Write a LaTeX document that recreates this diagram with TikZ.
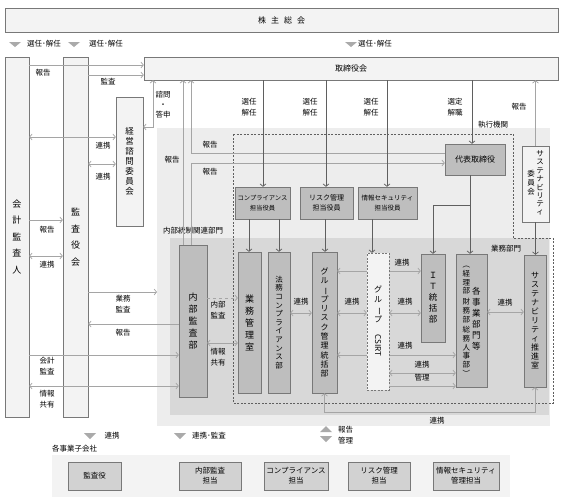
\documentclass[tikz,border=0pt]{standalone}
\usepackage{fontspec}
\setmainfont{Noto Sans CJK JP}
\usepackage{tikz}
\usetikzlibrary{arrows.meta}

\definecolor{paleGray}{RGB}{243,243,243}
\definecolor{bgLight}{RGB}{237,237,237}
\definecolor{bgDark}{RGB}{216,216,216}
\definecolor{boxGray}{RGB}{190,190,190}
\definecolor{subGray}{RGB}{210,210,210}
\definecolor{edgeGray}{RGB}{120,120,120}
\definecolor{lineGray}{RGB}{165,165,165}
\definecolor{darkLine}{RGB}{95,95,95}
\definecolor{triGray}{RGB}{170,170,170}

\newcommand{\vcol}[1]{\begin{tabular}[c]{@{}c@{}}#1\end{tabular}}
\newcommand{\vbar}{\rotatebox[origin=c]{-90}{ー}}

\tikzset{
  >={Straight Barb[length=2.5pt,width=6pt]},
  pale/.style={draw=edgeGray, fill=paleGray, inner sep=0pt, align=center},
  dept/.style={draw=edgeGray, fill=boxGray, inner sep=0pt, align=center},
  sub/.style={draw=edgeGray, fill=subGray, inner sep=0pt, align=center,
    minimum height=28, font=\fontsize{7.5}{10}\selectfont},
  lbl/.style={inner sep=0pt, align=center, font=\fontsize{7.5}{10.5}\selectfont},
  lnk/.style={draw=lineGray, line width=0.7pt},
  dnk/.style={draw=darkLine, line width=0.7pt},
  tri/.style={fill=triGray},
}

\begin{document}
\begin{tikzpicture}[x=1pt,y=-1pt]
\useasboundingbox[fill=white] (0,0) rectangle (565,501);

% background areas
\node[fill=bgLight, inner sep=0pt, minimum width=393, minimum height=298, anchor=north west] (exarea) at (157,128) {};
\node[fill=bgDark, inner sep=0pt, minimum width=379, minimum height=177, anchor=north west] (ctrlarea) at (170,238) {};
\draw[darkLine, dash pattern=on 2pt off 1.5pt] (233,134) -- (513,134) -- (513,238) -- (553,238) -- (553,403) -- (233,403) -- cycle;
\node[lbl] (shikko) at (493,125) {執行機関};
\node[lbl] (toseilbl) at (193,231) {内部統制関連部門};
\node[lbl] (gyomulbl) at (506,249) {業務部門};

% top
\node[pale, minimum width=553, minimum height=24, font=\fontsize{8}{9}\selectfont] (sohkai) at (281.5,20) {株\hspace{5pt}主\hspace{5pt}総\hspace{5pt}会};
\fill[tri] (9,42) -- (21,42) -- (15,47) -- cycle;
\node[lbl] (sen1) at (44,44) {選任･解任};
\fill[tri] (68,42) -- (80,42) -- (74,47) -- cycle;
\node[lbl] (sen2) at (106,44) {選任･解任};
\fill[tri] (345,42) -- (357,42) -- (351,47) -- cycle;
\node[lbl] (sen3) at (375,44) {選任･解任};
\node[pale, minimum width=414, minimum height=23, font=\fontsize{8}{9}\selectfont] (torishimari) at (351,68.5) {取締役会};

% left columns
\node[pale, minimum width=24, minimum height=360, font=\fontsize{9}{16.5}\selectfont] (kaikei) at (17,237) {会\\計\\監\\査\\人};
\node[pale, minimum width=25, minimum height=360, font=\fontsize{9}{16.5}\selectfont] (kansayaku) at (75.5,237) {監\\査\\役\\会};
\node[pale, minimum width=27, minimum height=129, font=\fontsize{8.5}{10}\selectfont] (keiei) at (129.5,161.5) {経\\営\\諮\\問\\委\\員\\会};

% executive boxes
\node[dept, minimum width=60, minimum height=31, font=\fontsize{8}{9}\selectfont] (daihyo) at (475,159.5) {代表取締役};
\node[pale, minimum width=27, minimum height=76] (suiinkai) at (535.5,184)
  {\fontsize{7.5}{9}\selectfont\vcol{委\\員\\会}\hspace{1.5pt}\fontsize{7.5}{8.3}\selectfont\vcol{サ\\ス\\テ\\ナ\\ビ\\リ\\テ\\ィ}};
\node[dept, minimum width=55, minimum height=32, font=\fontsize{6.3}{9.5}\selectfont] (compyaku) at (262.5,203) {コンプライアンス\\担当役員};
\node[dept, minimum width=53, minimum height=32, font=\fontsize{7}{9.5}\selectfont] (riskyaku) at (326.5,203) {リスク管理\\担当役員};
\node[dept, minimum width=59, minimum height=32, font=\fontsize{6.5}{9.5}\selectfont] (infoyaku) at (387.5,203) {情報セキュリティ\\担当役員};

% departments
\node[dept, minimum width=28, minimum height=152, font=\fontsize{9}{12}\selectfont] (naibu) at (193,321) {内\\部\\監\\査\\部};
\node[dept, minimum width=23, minimum height=141, font=\fontsize{9}{12}\selectfont] (gyomu) at (249.5,322.5) {業\\務\\管\\理\\室};
\node[dept, minimum width=22, minimum height=141, font=\fontsize{7.5}{8.6}\selectfont] (homu) at (279,322.5) {法\\務\\コ\\ン\\プ\\ラ\\イ\\ア\\ン\\ス\\部};
\node[dept, minimum width=25, minimum height=141, font=\fontsize{8}{9.3}\selectfont] (grisk) at (324.5,322.5) {グ\\ル\\\vbar\\プ\\リ\\ス\\ク\\管\\理\\統\\括\\部};
\node[dept, minimum width=24, minimum height=88, font=\fontsize{8.5}{11}\selectfont] (it) at (433,298) {Ｉ\\Ｔ\\統\\括\\部};
\node[dept, minimum width=31, minimum height=133] (jigyo) at (471.5,320.5)
  {\fontsize{7.5}{8.2}\selectfont\vcol{︵\\経\\理\\部\\[2pt]財\\務\\部\\[2pt]総\\務\\人\\事\\部\\︶}\hspace{2pt}\fontsize{8.5}{11}\selectfont\vcol{各\\事\\業\\部\\門\\等}};
\node[dept, minimum width=22, minimum height=132, font=\fontsize{8}{9}\selectfont] (suishin) at (535,321) {サ\\ス\\テ\\ナ\\ビ\\リ\\テ\\ィ\\推\\進\\室};

% links across the CSIRT box
\draw[lnk,<->] (grisk.east|-0,271) -- (it.west|-0,271);
\node[lbl] (tx21) at (402,263) {連携};
\draw[lnk,<->] (grisk.east|-0,355) -- (jigyo.west|-0,355);
\node[lbl] (tx22) at (405,346) {連携};
\node[draw=edgeGray, dash pattern=on 2pt off 1.5pt, fill=paleGray, inner sep=0pt, minimum width=22, minimum height=137, align=center, font=\fontsize{8}{10}\selectfont] (csirt) at (378,321.5) {グ\\ル\\\vbar\\プ\\[2pt]\rotatebox{-90}{CSIRT}};

% left side links
\draw[lnk,->] (kaikei.east|-0,65) -- (torishimari.west|-0,65);
\node[lbl] (tx1) at (43,73) {報告};
\draw[lnk,->] (kansayaku.east|-0,75) -- (torishimari.west|-0,75);
\node[lbl] (tx2) at (108,82) {監査};
\draw[lnk,<->] (keiei.east|-0,127) -| (torishimari.south-|153,0);
\node[lbl, font=\fontsize{7.5}{10}\selectfont] (tx3) at (163,105) {諮問\\・\\答申};
\draw[lnk,<->] (kaikei.east|-0,137) -- (keiei.west|-0,137);
\node[lbl] (tx4) at (103,146) {連携};
\draw[lnk,<->] (kansayaku.east|-0,164) -- (keiei.west|-0,164);
\node[lbl] (tx5) at (103,177) {連携};
\draw[lnk,->] (kaikei.east|-0,220) -- (kansayaku.west|-0,220);
\node[lbl] (tx6) at (47,230) {報告};
\draw[lnk,<->] (kaikei.east|-0,256) -- (kansayaku.west|-0,256);
\node[lbl] (tx7) at (47,265) {連携};
\draw[lnk,->] (kansayaku.east|-0,292) -- (exarea.west|-0,292);
\node[lbl] (tx8) at (123,304) {業務\\監査};
\draw[lnk,->] (naibu.west|-0,324) -- (kansayaku.east|-0,324);
\node[lbl] (tx9) at (123,333) {報告};
\draw[lnk,->] (kaikei.east|-0,355) -- (naibu.west|-0,355);
\node[lbl] (tx10) at (47,366) {会計\\監査};
\draw[lnk,<->] (kaikei.east|-0,386) -- (naibu.west|-0,386);
\node[lbl] (tx11) at (47,399) {情報\\共有};

% reports up to the board
\draw[lnk,->] (naibu.north-|183,0) -- (torishimari.south-|183,0);
\node[lbl] (tx12) at (172,160) {報告};
\draw[lnk,->] (daihyo.west|-0,153) -| (torishimari.south-|191,0);
\node[lbl] (tx13) at (210,145) {報告};
\draw[lnk,->] (naibu.north-|191,0) |- (daihyo.west|-0,163);
\node[lbl] (tx14) at (210,172) {報告};
\draw[lnk,->] (suiinkai.north) -- (torishimari.south-|suiinkai.north);
\node[lbl] (tx15) at (519,107) {報告};

% appointments
\draw[dnk,->] (torishimari.south-|263,0) -- (compyaku.north-|263,0);
\node[lbl] (tx16) at (249,107) {選任\\解任};
\draw[dnk,->] (torishimari.south-|326,0) -- (riskyaku.north-|326,0);
\node[lbl] (tx17) at (310,107) {選任\\解任};
\draw[dnk,->] (torishimari.south-|387,0) -- (infoyaku.north-|387,0);
\node[lbl] (tx18) at (371,107) {選任\\解任};
\draw[dnk,->] (torishimari.south-|472,0) -- (daihyo.north-|472,0);
\node[lbl] (tx19) at (455,107) {選定\\解職};

% orders down
\draw[dnk,->] (compyaku.south-|249,0) -- (gyomu.north-|249,0);
\draw[dnk,->] (compyaku.south-|279,0) -- (homu.north-|279,0);
\draw[dnk,->] (riskyaku.south-|325,0) -- (grisk.north-|325,0);
\draw[dnk,->] (infoyaku.south-|372,0) -- (csirt.north-|372,0);
\draw[dnk,->] (daihyo.south-|470,0) -- (jigyo.north-|470,0);
\coordinate (branch) at (470,205);
\draw[dnk,->] (branch) -| (it.north);
\draw[dnk,->] (suiinkai.south) -- (suishin.north-|suiinkai.south);

% links inside
\draw[lnk,dashed,->] (naibu.east|-0,298) -- (gyomu.west|-0,298);
\node[lbl] (tx20) at (218,310) {内部\\監査};
\draw[lnk,<->] (naibu.east|-0,343) -- (gyomu.west|-0,343);
\node[lbl] (tx23) at (218,357) {情報\\共有};
\draw[lnk,<->] (homu.east|-0,313) -- (grisk.west|-0,313);
\node[lbl] (tx24) at (301,302) {連携};
\draw[lnk,<->] (grisk.east|-0,313) -- (csirt.west|-0,313);
\node[lbl] (tx25) at (352,302) {連携};
\draw[lnk,<->] (csirt.east|-0,313) -- (it.west|-0,313);
\node[lbl] (tx26) at (405,302) {連携};
\draw[lnk,<->] (csirt.east|-0,373) -- (jigyo.west|-0,373);
\node[lbl] (tx27) at (422,365) {連携};
\draw[lnk,->] (csirt.east|-0,386) -- (jigyo.west|-0,386);
\node[lbl] (tx28) at (422,378) {管理};
\draw[lnk,<->] (jigyo.east|-0,312) -- (suishin.west|-0,312);
\node[lbl] (tx29) at (505,303) {連携};
\draw[lnk,<->] (grisk.south) |- (suishin.south|-0,412) -- (suishin.south);
\node[lbl] (tx30) at (437,421) {連携};

% subsidiaries
\fill[tri] (84,433) -- (96,433) -- (90,439) -- cycle;
\node[lbl] (tx31) at (112,436) {連携};
\node[lbl, anchor=west] (kogaisha) at (52,449) {各事業子会社};
\fill[tri] (174,433) -- (186,433) -- (180,439) -- cycle;
\node[lbl, anchor=west] (tx32) at (192,436) {連携･監査};
\fill[tri] (320,432) -- (332,432) -- (326,426) -- cycle;
\fill[tri] (320,436) -- (332,436) -- (326,442) -- cycle;
\node[lbl, anchor=west] (tx33) at (338,435) {報告\\管理};
\node[fill=paleGray, inner sep=0pt, minimum width=458, minimum height=42, anchor=north west] (subarea) at (52,455) {};
\node[sub, minimum width=53] (s1) at (94.5,476) {監査役};
\node[sub, minimum width=62] (s2) at (210,476) {内部監査\\担当};
\node[sub, minimum width=64] (s3) at (296,476) {コンプライアンス\\担当};
\node[sub, minimum width=62] (s4) at (379,476) {リスク管理\\担当};
\node[sub, minimum width=66] (s5) at (466,476) {情報セキュリティ\\管理担当};
\end{tikzpicture}
\end{document}
